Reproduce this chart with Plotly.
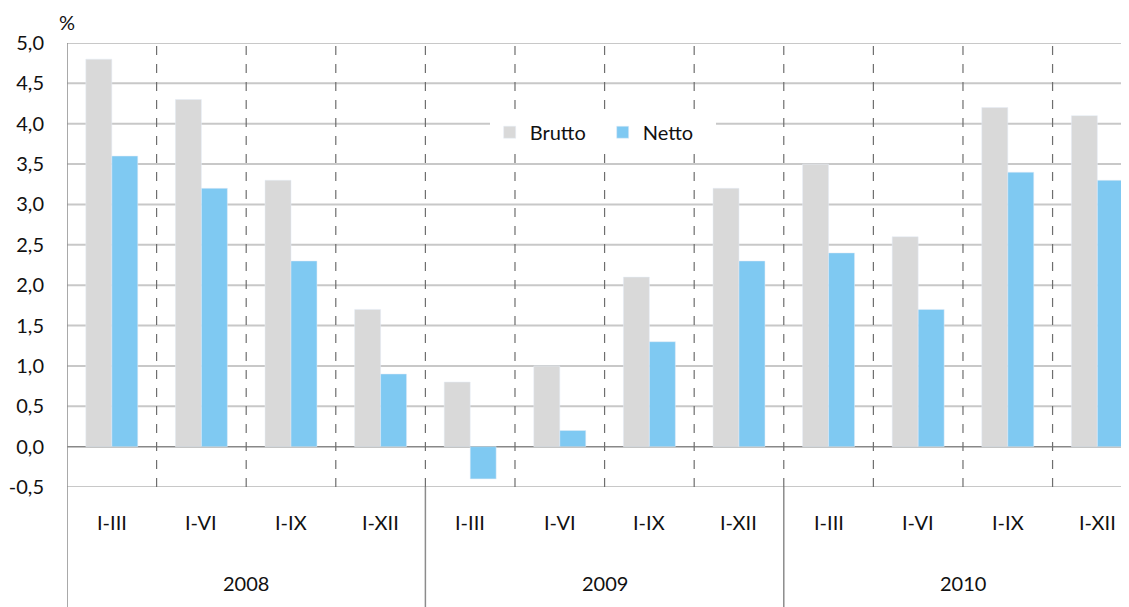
import plotly.graph_objects as go

years = ["2008", "2009", "2010"]
periods = ["I-III", "I-VI", "I-IX", "I-XII"]
brutto = [4.8, 4.3, 3.3, 1.7, 0.8, 1.0, 2.1, 3.2, 3.5, 2.6, 4.2, 4.1]
netto = [3.6, 3.2, 2.3, 0.9, -0.4, 0.2, 1.3, 2.3, 2.4, 1.7, 3.4, 3.3]
y_ticks = [-0.5, 0.0, 0.5, 1.0, 1.5, 2.0, 2.5, 3.0, 3.5, 4.0, 4.5, 5.0]
y_tick_text = [f"{v:.1f}".replace(".", ",") for v in y_ticks]

FONT = "Lato"
FS = 20
n = len(brutto)
xs = list(range(n))

fig = go.Figure()
fig.add_trace(go.Bar(x=xs, y=brutto, name="Brutto", marker_color="#D9D9D9"))
fig.add_trace(go.Bar(x=xs, y=netto, name="Netto", marker_color="#7FC9F2"))

shapes = []
# horizontal gridlines
for v in y_ticks:
    shapes.append(dict(type="line", xref="paper", yref="y", x0=0, x1=1, y0=v, y1=v,
                       line=dict(color="#888888" if v == 0 else "#C8C8C8", width=1.5 if v == 0 else 2),
                       layer="below"))
# vertical separators
for k in range(1, n):
    b = k - 0.5
    if k % 4 == 0:
        shapes.append(dict(type="line", xref="x", yref="paper", x0=b, x1=b, y0=-0.3, y1=0,
                           line=dict(color="#8C8C8C", width=1.5)))
    shapes.append(dict(type="line", xref="x", yref="paper", x0=b, x1=b, y0=0, y1=1,
                       line=dict(color="#6E6E6E", width=1.2, dash="dash"), layer="below"))
# left axis line
shapes.append(dict(type="line", xref="x", yref="paper", x0=-0.5, x1=-0.5, y0=-0.3, y1=1,
                   line=dict(color="#8C8C8C", width=1.5)))

annotations = []
for i in range(n):
    annotations.append(dict(x=i, y=-0.079, xref="x", yref="paper", text=periods[i % 4],
                             showarrow=False, font=dict(size=FS, color="#111111", family=FONT),
                             yanchor="middle"))
for j, yr in enumerate(years):
    annotations.append(dict(x=j * 4 + 1.5, y=-0.216, xref="x", yref="paper", text=yr,
                            showarrow=False, font=dict(size=FS, color="#111111", family=FONT),
                            yanchor="middle"))
annotations.append(dict(x=0.0, y=1.048, xref="paper", yref="paper", text="%", showarrow=False,
                        font=dict(size=FS, color="#111111", family=FONT), xanchor="center",
                        yanchor="middle"))

fig.update_layout(
    width=1121, height=599,
    margin=dict(l=59, r=0, t=35, b=120),
    paper_bgcolor="white", plot_bgcolor="white",
    barmode="group", bargap=0.42, bargroupgap=0,
    font=dict(family=FONT, size=FS, color="#111111"),
    xaxis=dict(range=[-0.5, 11.353], showticklabels=False, showgrid=False, zeroline=False,
               showline=False, ticks="", automargin=False),
    yaxis=dict(range=[-0.5, 5.0], tickvals=y_ticks, ticktext=y_tick_text, showgrid=False,
               zeroline=False, showline=False, ticks="", ticklabelstandoff=22, automargin=False,
               tickfont=dict(size=FS, family=FONT, color="#111111")),
    legend=dict(orientation="h", x=0.398, y=0.843, xanchor="left", yanchor="top",
                bgcolor="white", font=dict(size=FS, family=FONT, color="#111111"),
                itemwidth=30, traceorder="normal", entrywidth=68),
    shapes=shapes, annotations=annotations,
)

fig.write_html("out.html")
